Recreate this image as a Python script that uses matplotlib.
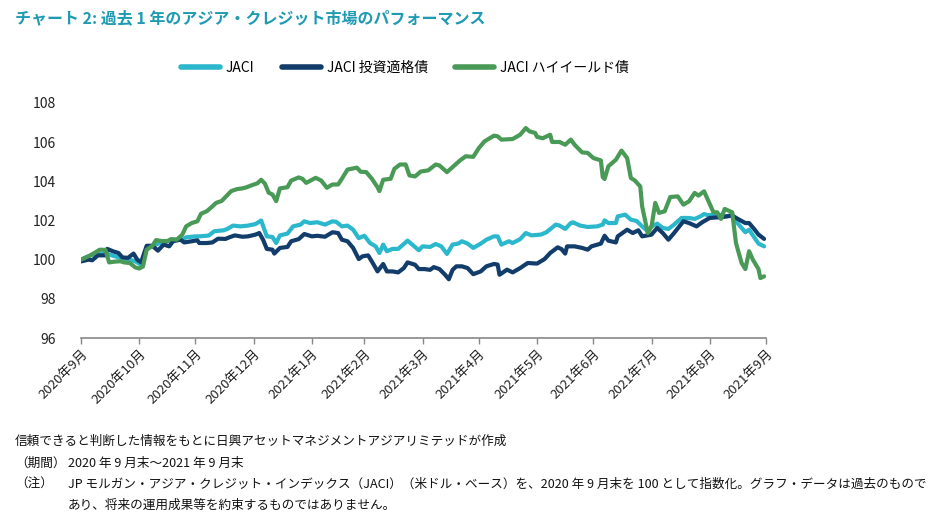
import matplotlib
matplotlib.use("Agg")
import matplotlib.pyplot as plt
import pandas as pd
import numpy as np

plt.rcParams['font.family'] = ['Noto Sans CJK JP', 'DejaVu Sans']

start_date = "2020-09-30"

# JACI ハイイールド債 (day offset from start, index value)
hy_days = [0, 5, 10, 13, 15, 18, 21, 23, 26, 29, 31, 33, 35, 38, 40, 43, 46, 48, 51, 54,
           56, 59, 62, 64, 67, 70, 72, 75, 78, 80, 83, 86, 88, 91, 94, 96, 98, 100, 102, 104,
           106, 110, 112, 116, 118, 120, 125, 128, 131, 134, 137, 139, 142, 144, 147, 149, 152, 155, 158, 159,
           161, 165, 167, 170, 173, 175, 178, 181, 185, 189, 191, 195, 198, 202, 205, 209, 212, 215, 220, 222,
           224, 230, 234, 237, 239, 242, 243, 246, 250, 251, 255, 258, 261, 263, 267, 270, 273, 277, 278, 279,
           281, 285, 288, 291, 293, 295, 298, 299, 302, 304, 306, 308, 311, 314, 318, 321, 324, 327, 329, 332,
           334, 337, 339, 341, 343, 347, 349, 352, 354, 356, 358, 361, 362, 364]
hy_vals = [100.0, 100.22, 100.51, 100.5, 99.86, 99.9, 99.92, 99.86, 99.83, 99.6, 99.55, 99.65, 100.51, 100.7, 101.0, 100.95, 100.95, 101.05, 101.02, 101.28,
           101.7, 101.87, 101.96, 102.35, 102.47, 102.72, 102.9, 103.0, 103.3, 103.5, 103.6, 103.64, 103.69, 103.8, 103.9, 104.08, 103.88, 103.42, 103.33, 102.99,
           103.64, 103.7, 104.04, 104.2, 104.13, 103.92, 104.18, 104.04, 103.67, 103.84, 103.84, 104.13, 104.6, 104.64, 104.7, 104.49, 104.47, 104.13, 103.7, 103.5,
           104.08, 104.13, 104.64, 104.86, 104.86, 104.3, 104.25, 104.5, 104.56, 104.86, 104.81, 104.47, 104.73, 105.07, 105.28, 105.25, 105.7, 106.04, 106.33, 106.3,
           106.13, 106.16, 106.38, 106.72, 106.55, 106.47, 106.27, 106.2, 106.38, 106.01, 106.01, 105.87, 106.13, 105.87, 105.48, 105.45, 105.19, 105.07, 104.22, 104.12,
           104.77, 105.1, 105.57, 105.19, 104.17, 104.05, 103.74, 102.72, 101.36, 101.7, 102.9, 102.39, 102.47, 103.2, 103.23, 102.81, 102.98, 103.41, 103.27, 103.49,
           103.06, 102.42, 102.42, 102.08, 102.59, 102.42, 100.85, 99.83, 99.52, 100.43, 100.0, 99.52, 99.06, 99.15]

# JACI
jaci_days = [0, 6, 12, 15, 21, 26, 29, 32, 35, 38, 42, 46, 49, 54, 56, 61, 63, 68, 71, 76,
             78, 81, 85, 89, 93, 96, 99, 102, 104, 106, 110, 113, 117, 119, 122, 126, 130, 134, 136, 139,
             142, 145, 148, 151, 154, 157, 159, 161, 163, 166, 169, 172, 174, 176, 180, 182, 186, 189, 192, 195,
             198, 201, 203, 206, 209, 213, 216, 220, 222, 224, 228, 230, 234, 237, 240, 245, 248, 253, 255, 258,
             261, 262, 266, 270, 275, 278, 279, 281, 285, 286, 290, 293, 296, 299, 302, 304, 307, 310, 313, 316,
             320, 324, 327, 330, 332, 334, 337, 340, 344, 347, 349, 352, 354, 356, 359, 361, 364]
jaci_vals = [100.0, 100.26, 100.31, 100.26, 100.09, 100.0, 99.91, 99.74, 100.6, 100.7, 100.85, 100.94, 101.02, 101.02, 101.14, 101.19, 101.19, 101.23, 101.45, 101.5,
             101.57, 101.74, 101.7, 101.74, 101.82, 102.0, 101.19, 101.16, 100.85, 101.24, 101.33, 101.7, 101.79, 101.96, 101.87, 101.91, 101.79, 101.96, 101.93, 101.7,
             101.74, 101.53, 101.1, 101.22, 100.85, 100.68, 100.34, 100.77, 100.43, 100.55, 100.55, 100.8, 100.97, 100.81, 100.48, 100.68, 100.65, 100.8, 100.68, 100.29,
             100.77, 100.82, 100.94, 100.82, 100.6, 100.82, 101.02, 101.19, 101.19, 100.77, 100.94, 100.85, 101.05, 101.36, 101.24, 101.28, 101.4, 101.79, 101.74, 101.57,
             101.87, 101.91, 101.74, 101.67, 101.7, 101.79, 102.01, 101.87, 101.87, 102.21, 102.3, 102.04, 101.98, 101.7, 101.45, 101.7, 101.84, 101.62, 101.57, 101.79,
             102.13, 102.13, 102.08, 102.21, 102.33, 102.27, 102.3, 102.3, 102.21, 102.3, 101.96, 101.62, 101.4, 101.53, 101.1, 100.82, 100.68]

# JACI 投資適格債
ig_days = [0, 4, 6, 9, 13, 14, 17, 20, 22, 25, 28, 30, 32, 35, 38, 41, 44, 47, 49, 53,
           55, 59, 62, 63, 67, 70, 73, 77, 79, 82, 86, 89, 93, 95, 97, 99, 102, 103, 106, 110,
           112, 116, 119, 123, 126, 130, 134, 137, 139, 142, 145, 148, 150, 153, 156, 158, 161, 163, 166, 169,
           172, 174, 178, 180, 183, 186, 188, 191, 194, 196, 198, 200, 203, 206, 209, 213, 216, 220, 222, 223,
           227, 230, 234, 238, 243, 247, 250, 254, 256, 258, 259, 263, 267, 270, 272, 277, 279, 281, 285, 286,
           291, 294, 297, 299, 304, 307, 310, 313, 316, 321, 324, 328, 331, 335, 339, 341, 344, 347, 350, 354,
           356, 359, 361, 364]
ig_vals = [99.91, 100.0, 99.97, 100.22, 100.22, 100.55, 100.43, 100.34, 100.12, 100.09, 100.31, 100.0, 99.86, 100.71, 100.71, 100.46, 100.77, 100.68, 100.94, 101.02,
           100.88, 100.94, 100.99, 100.85, 100.85, 100.88, 101.07, 101.06, 101.14, 101.24, 101.17, 101.19, 101.28, 101.36, 101.02, 100.55, 100.51, 100.31, 100.6, 100.65,
           100.94, 101.05, 101.31, 101.19, 101.22, 101.17, 101.4, 101.36, 101.02, 100.94, 100.6, 100.03, 100.17, 100.22, 99.74, 99.4, 99.78, 99.4, 99.4, 99.35,
           99.57, 99.86, 99.74, 99.52, 99.52, 99.48, 99.62, 99.52, 99.23, 99.0, 99.48, 99.66, 99.66, 99.57, 99.26, 99.4, 99.66, 99.78, 99.75, 99.23,
           99.49, 99.35, 99.57, 99.83, 99.8, 100.03, 100.34, 100.63, 100.54, 100.31, 100.68, 100.68, 100.6, 100.51, 100.68, 100.82, 101.22, 100.97, 100.88, 101.19,
           101.53, 101.36, 101.5, 101.19, 101.28, 101.62, 101.36, 101.02, 101.36, 101.96, 101.87, 101.7, 101.91, 102.13, 102.16, 102.16, 102.21, 102.25, 102.08, 101.87,
           101.87, 101.53, 101.28, 101.06]

series_names = ["JACI", "JACI 投資適格債", "JACI ハイイールド債"]
series_colors = ["#2BB7CC", "#123D6A", "#4A9A57"]

tick_labels = ["2020年9月", "2020年10月", "2020年11月", "2020年12月", "2021年1月", "2021年2月",
               "2021年3月", "2021年4月", "2021年5月", "2021年6月", "2021年7月", "2021年8月", "2021年9月"]
y_ticks = [96, 98, 100, 102, 104, 106, 108]

title = "チャート 2: 過去 1 年のアジア・クレジット市場のパフォーマンス"
note1 = "信頼できると判断した情報をもとに日興アセットマネジメントアジアリミテッドが作成"
note2_head = "（期間）"
note2_body = "2020 年 9 月末～2021 年 9 月末"
note3_head = "（注）"
note3_body = "JP モルガン・アジア・クレジット・インデックス（JACI）（米ドル・ベース）を、2020 年 9 月末を 100 として指数化。グラフ・データは過去のもので"
note4_body = "あり、将来の運用成果等を約束するものではありません。"

W, H = 933, 531
fig = plt.figure(figsize=(W / 100, H / 100), dpi=100)
ax = fig.add_axes([81 / W, 1 - 338 / H, (766 - 81) / W, (338 - 103) / H])

t0 = pd.Timestamp(start_date)
def to_dates(days):
    return t0 + pd.to_timedelta(np.array(days), unit="D")

all_series = [(jaci_days, jaci_vals), (ig_days, ig_vals), (hy_days, hy_vals)]
for i in range(3):
    d, v = all_series[i]
    ax.plot(to_dates(d), v, color=series_colors[i], lw=3.0, label=series_names[i],
            solid_joinstyle="round", solid_capstyle="round", zorder=2 + i)

ax.set_ylim(96, 108)
ax.set_yticks(y_ticks)
ax.set_xlim(t0, pd.Timestamp("2021-09-30"))
xt = pd.date_range(start_date, "2021-09-30", freq="ME")
ax.set_xticks(xt)
ax.set_xticklabels(tick_labels, rotation=45, ha="right", va="top", rotation_mode="anchor",
                   fontsize=9.5, color="#222222")
ax.tick_params(axis="x", direction="out", length=4, width=1, color="#888888", pad=3)
ax.tick_params(axis="y", length=0, pad=18, labelsize=10, labelcolor="#222222")
for s in ["top", "right", "left"]:
    ax.spines[s].set_visible(False)
ax.spines["bottom"].set_color("#888888")
ax.spines["bottom"].set_linewidth(1.2)

leg = fig.legend(loc="center", bbox_to_anchor=(405 / W, 1 - 68 / H), ncol=3, frameon=False,
                 fontsize=10, handlelength=2.8, columnspacing=2.0, handletextpad=0.4)
for line in leg.get_lines():
    line.set_linewidth(4)

fig.text(15 / W, 1 - 18 / H, title, fontsize=11.5, fontweight="bold", color="#1E9AB2",
         ha="left", va="center")

fs = 9.1
fig.text(15 / W, 1 - 441 / H, note1, fontsize=fs, ha="left", va="center", color="#111111")
fig.text(15 / W, 1 - 463 / H, note2_head, fontsize=fs, ha="left", va="center", color="#111111")
fig.text(68 / W, 1 - 463 / H, note2_body, fontsize=fs, ha="left", va="center", color="#111111")
fig.text(15 / W, 1 - 484 / H, note3_head, fontsize=fs, ha="left", va="center", color="#111111")
fig.text(68 / W, 1 - 484 / H, note3_body, fontsize=9.05, ha="left", va="center", color="#111111")
fig.text(68 / W, 1 - 505 / H, note4_body, fontsize=fs, ha="left", va="center", color="#111111")

fig.savefig("out.png", dpi=100)
